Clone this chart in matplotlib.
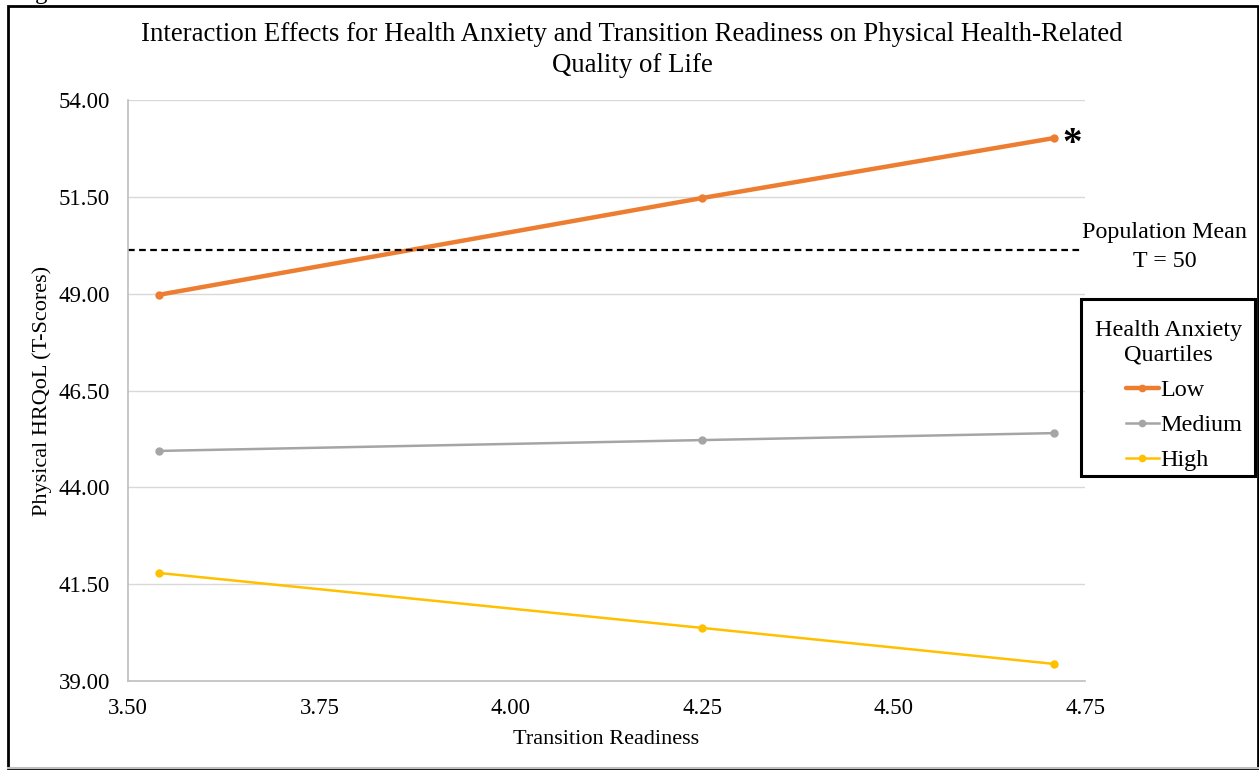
import matplotlib.pyplot as plt
from matplotlib.patches import Rectangle
from matplotlib.lines import Line2D

plt.rcParams['font.family'] = ['Liberation Serif', 'DejaVu Serif']

readiness = [3.54, 4.25, 4.71]
low = [48.97, 51.47, 53.02]
medium = [44.94, 45.22, 45.40]
high = [41.79, 40.37, 39.44]
pop_mean_y = 50.13

yticks = [39.0, 41.5, 44.0, 46.5, 49.0, 51.5, 54.0]
xticks = [3.50, 3.75, 4.00, 4.25, 4.50, 4.75]

fig = plt.figure(figsize=(12.59, 7.70), dpi=100)
ax = fig.add_axes([0.1017, 0.1156, 0.7601, 0.7545])

# series
ax.plot(readiness, low, color='#ED7D31', lw=3.2, marker='o', ms=5, label='Low', solid_capstyle='round')
ax.plot(readiness, medium, color='#A5A5A5', lw=1.8, marker='o', ms=5, label='Medium')
ax.plot(readiness, high, color='#FFC000', lw=1.8, marker='o', ms=5, label='High')

# population mean
ax.plot([3.50, 4.745], [pop_mean_y, pop_mean_y], color='black', lw=1.6, ls=(0, (3, 2)), clip_on=False)

ax.set_xlim(3.50, 4.75)
ax.set_ylim(39, 54)
ax.set_xticks(xticks)
ax.set_xticklabels([f"{v:.2f}" for v in xticks])
ax.set_yticks(yticks)
ax.set_yticklabels([f"{v:.2f}" for v in yticks])
ax.tick_params(axis='y', length=0, labelsize=16.5, pad=13)
ax.tick_params(axis='x', length=0, labelsize=16.5, pad=12)
ax.grid(axis='y', color='#d9d9d9', lw=1)
ax.set_axisbelow(True)
for s in ['top', 'right']:
    ax.spines[s].set_visible(False)
for s in ['left', 'bottom']:
    ax.spines[s].set_color('#bfbfbf')
    ax.spines[s].set_linewidth(1.2)

ax.set_xlabel('Transition Readiness', fontsize=16, labelpad=8)
ax.set_ylabel('Physical HRQoL (T-Scores)', fontsize=16, labelpad=5)

fig.text(0.502, 0.935, 'Interaction Effects for Health Anxiety and Transition Readiness on Physical Health-Related\nQuality of Life',
         ha='center', va='center', fontsize=19.3, linespacing=1.35)

# annotations
fig.text(0.8435, 0.812, '*', fontsize=28, fontweight='bold', ha='left', va='center')
fig.text(0.925, 0.6786, 'Population Mean\nT = 50', ha='center', va='center', fontsize=17.3, linespacing=1.5)

# legend (frame drawn separately)
handles, labels = ax.get_legend_handles_labels()
leg = fig.legend(handles, labels, title='Health Anxiety\nQuartiles', loc='upper right',
                 bbox_to_anchor=(0.9984, 0.6035), bbox_transform=fig.transFigure,
                 fontsize=17.4, title_fontsize=17.4, frameon=False, alignment='right',
                 handlelength=1.4, handletextpad=0.05,
                 labelspacing=0.55, borderpad=0.6, borderaxespad=0, markerscale=0.9)
leg.get_title().set_multialignment('center')
leg.get_title().set_linespacing(1.25)
fig.patches.append(Rectangle((0.8586, 0.3818), 0.1382, 0.2299, transform=fig.transFigure,
                             fill=False, edgecolor='black', lw=2.2))

# figure border
fig.patches.append(Rectangle((0.0065, 0.002), 0.9925, 0.99, transform=fig.transFigure,
                             fill=False, edgecolor='black', lw=2))
fig.add_artist(Line2D([0.0065, 0.999], [0.0026, 0.0026], color='#bfbfbf', lw=1.5))
fig.text(0.011, 1.0015, 'Figure', fontsize=18, ha='left', va='baseline')

fig.savefig('out.png', dpi=100)
